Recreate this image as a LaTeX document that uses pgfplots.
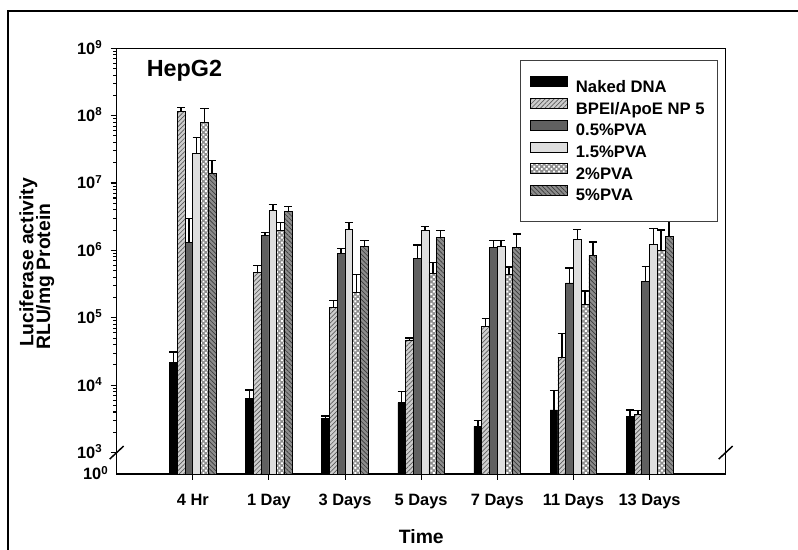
\documentclass[border=0pt]{standalone}
\usepackage{fontspec}
\setmainfont{Liberation Sans}
\usepackage{pgfplots}
\pgfplotsset{compat=1.18}
\usepackage{pgfplotstable}
\usetikzlibrary{patterns,patterns.meta}

\definecolor{bpeifill}{HTML}{CDCDCD}
\definecolor{bpeiline}{HTML}{5A5A5A}
\definecolor{pvafive}{HTML}{606060}
\definecolor{pvaonefive}{HTML}{DEDEDE}
\definecolor{pvatwo}{HTML}{8E8E8E}
\definecolor{pvafivefill}{HTML}{8C8C8C}
\definecolor{pvafiveline}{HTML}{3A3A3A}

% bar position (category index + offset in group), value, upper error
\pgfplotstableread{
x y e
-0.255 22000 9000
0.745 6300 2200
1.745 3200 300
2.745 5500 2600
3.745 2450 550
4.745 4300 4100
5.745 3400 900
}\naked
\pgfplotstableread{
x y e
-0.153 1.15e8 1.8e7
0.847 4.7e5 1.3e5
1.847 1.43e5 3.7e4
2.847 4.7e4 3000
3.847 7.4e4 2.3e4
4.847 2.6e4 3.3e4
5.847 3700 500
}\bpei
\pgfplotstableread{
x y e
-0.051 1.3e6 1.7e6
0.949 1.65e6 2.0e5
1.949 9.0e5 1.7e5
2.949 7.6e5 4.4e5
3.949 1.1e6 3.0e5
4.949 3.3e5 2.2e5
5.949 3.5e5 2.3e5
}\pvahalf
\pgfplotstableread{
x y e
0.051 2.75e7 1.95e7
1.051 3.9e6 9.0e5
2.051 2.05e6 5.5e5
3.051 2.0e6 2.6e5
4.051 1.15e6 2.5e5
5.051 1.44e6 6.1e5
6.051 1.23e6 8.7e5
}\pvaonefive
\pgfplotstableread{
x y e
0.153 8.0e7 4.7e7
1.153 2.0e6 6.0e5
2.153 2.4e5 2.0e5
3.153 4.5e5 2.1e5
4.153 4.4e5 1.3e5
5.153 1.6e5 9.0e4
6.153 1.0e6 1.0e6
}\pvatwo
\pgfplotstableread{
x y e
0.255 1.37e7 7.8e6
1.255 3.8e6 7.0e5
2.255 1.15e6 2.5e5
3.255 1.55e6 4.3e5
4.255 1.1e6 6.6e5
5.255 8.4e5 4.9e5
6.255 1.6e6 1.5e6
}\pvafive

\pgfplotsset{
  myerr/.style={error bars/.cd, y dir=plus, y explicit,
    error bar style={black, line width=1.1pt},
    error mark options={rotate=90, black, mark size=3.1pt, line width=1.1pt}},
  mybar/.style={ybar, bar width=0.102, bar shift=0pt, draw=black, line width=0.5pt},
}

\begin{document}
\begin{tikzpicture}
\path[use as bounding box] (0,0) rectangle (598.5pt,411.75pt);
\draw[line width=1.3pt] (6.2pt,-1pt) -- (6.2pt,403.7pt) -- (600pt,403.7pt);
\begin{axis}[
  at={(87.5pt,56.25pt)}, anchor=south west,
  scale only axis, width=456.75pt, height=319.3pt,
  xmin=-1, xmax=7,
  ymode=log, ymin=481, ymax=1e9, log origin=infty,
  clip=false,
  xtick={0,1,2,3,4,5,6},
  xticklabels={4 Hr,1 Day,3 Days,5 Days,7 Days,11 Days,13 Days},
  xtick pos=bottom, ytick pos=left, tick align=outside,
  ytick={1e3,1e4,1e5,1e6,1e7,1e8,1e9},
  yticklabels={10\textsuperscript{3},10\textsuperscript{4},10\textsuperscript{5},10\textsuperscript{6},10\textsuperscript{7},10\textsuperscript{8},10\textsuperscript{9}},
  minor ytick={2e3,3e3,4e3,5e3,6e3,7e3,8e3,9e3,2e4,3e4,4e4,5e4,6e4,7e4,8e4,9e4,2e5,3e5,4e5,5e5,6e5,7e5,8e5,9e5,2e6,3e6,4e6,5e6,6e6,7e6,8e6,9e6,2e7,3e7,4e7,5e7,6e7,7e7,8e7,9e7,2e8,3e8,4e8,5e8,6e8,7e8,8e8,9e8},
  extra y ticks={481}, extra y tick labels={10\textsuperscript{0}},
  extra y tick style={major tick length=0pt},
  major tick length=4.5pt, minor tick length=2.6pt,
  every tick/.style={black, line width=0.8pt},
  axis line style={line width=1pt},
  tick label style={font=\fontsize{12.3}{14}\selectfont\bfseries},
  yticklabel style={anchor=base east, yshift=-4.4pt, inner sep=0pt, xshift=-6pt},
  xticklabel style={anchor=base, inner sep=0pt, yshift=-19.5pt},
  legend cell align=left,
  legend style={at={(0.987,0.9725)}, anchor=north east, draw=black!75, line width=0.6pt,
    fill=white, inner xsep=7.5pt, inner ysep=12pt, row sep=0.8pt, column sep=4pt,
    font=\fontsize{12.5}{14}\selectfont\bfseries},
  legend image code/.code={\draw[#1] (0pt,0.55pt) rectangle (28pt,8.05pt);},
]
\addplot[mybar, fill=black, myerr] table[x=x,y=y,y error=e]{\naked};
\addlegendentry{Naked DNA}
\addplot[mybar, fill=bpeifill, postaction={pattern={Lines[angle=45,distance=2.4pt,line width=0.5pt]}, pattern color=bpeiline}, myerr] table[x=x,y=y,y error=e]{\bpei};
\addlegendentry{BPEI/ApoE NP 5}
\addplot[mybar, fill=pvafive, myerr] table[x=x,y=y,y error=e]{\pvahalf};
\addlegendentry{0.5\%PVA}
\addplot[mybar, fill=pvaonefive, myerr] table[x=x,y=y,y error=e]{\pvaonefive};
\addlegendentry{1.5\%PVA}
\addplot[mybar, fill=pvatwo, postaction={pattern={Dots[radius=1.0pt,distance=2.6pt,angle=45]}, pattern color=white}, myerr] table[x=x,y=y,y error=e]{\pvatwo};
\addlegendentry{2\%PVA}
\addplot[mybar, fill=pvafivefill, postaction={pattern={Lines[angle=-45,distance=2.4pt,line width=0.5pt]}, pattern color=pvafiveline}, myerr] table[x=x,y=y,y error=e]{\pvafive};
\addlegendentry{5\%PVA}
\draw[line width=1.1pt] (axis cs:-1,1000) ++(-5.25pt,-4.9pt) -- ++(10.5pt,9.8pt);
\draw[line width=1.1pt] (axis cs:7,1000) ++(-5.25pt,-4.9pt) -- ++(10.5pt,9.8pt);
\node[anchor=base west, inner sep=0pt, font=\fontsize{17.5}{20}\selectfont\bfseries] at (rel axis cs:0.049,0.933) {HepG2};
\end{axis}
\node[rotate=90, anchor=base, inner sep=0pt, font=\fontsize{14.5}{16}\selectfont\bfseries] at (25pt,214.9pt) {Luciferase activity};
\node[rotate=90, anchor=base west, inner sep=0pt, font=\fontsize{14.5}{16}\selectfont\bfseries] at (37.5pt,149.25pt) {RLU/mg Protein};
\node[anchor=base, inner sep=0pt, font=\fontsize{14.5}{16}\selectfont\bfseries] at (316pt,4.5pt) {Time};
\end{tikzpicture}
\end{document}
